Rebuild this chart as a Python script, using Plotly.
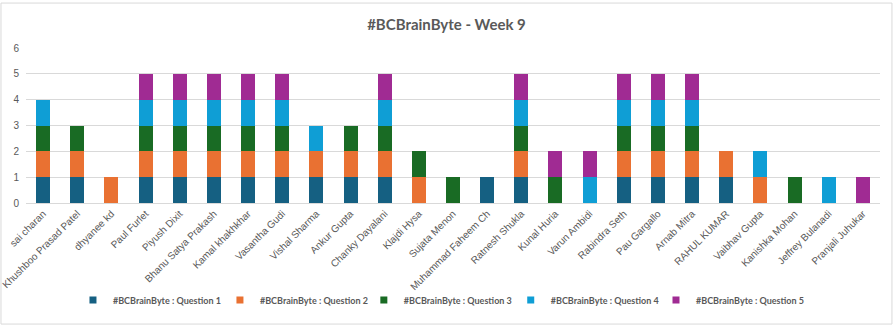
import plotly.graph_objects as go

names = ["sai charan", "Khushboo Prasad Patel", "dhyanee kd", "Paul Furlet", "Piyush Dixit",
         "Bhanu Satya Prakash", "Kamal khakhkhar", "Vasantha Gudi", "Vishal Sharma", "Ankur Gupta",
         "Chanky Dayalani", "Klajdi Hysa", "Sujata Menon", "Muhammad Faheem Ch", "Ratnesh Shukla",
         "Kunal Huria", "Varun Ambidi", "Rabindra Seth", "Pau Gargallo", "Arnab Mitra",
         "RAHUL KUMAR", "Vaibhav Gupta", "Kanishka Mohan", "Jeffrey Bulanadi", "Pranjali Juhukar"]

q1 = [1, 1, 0, 1, 1, 1, 1, 1, 1, 1, 1, 0, 0, 1, 1, 0, 0, 1, 1, 1, 1, 0, 0, 0, 0]
q2 = [1, 1, 1, 1, 1, 1, 1, 1, 1, 1, 1, 1, 0, 0, 1, 0, 0, 1, 1, 1, 1, 1, 0, 0, 0]
q3 = [1, 1, 0, 1, 1, 1, 1, 1, 0, 1, 1, 1, 1, 0, 1, 1, 0, 1, 1, 1, 0, 0, 1, 0, 0]
q4 = [1, 0, 0, 1, 1, 1, 1, 1, 1, 0, 1, 0, 0, 0, 1, 0, 1, 1, 1, 1, 0, 1, 0, 1, 0]
q5 = [0, 0, 0, 1, 1, 1, 1, 1, 0, 0, 1, 0, 0, 0, 1, 1, 1, 1, 1, 1, 0, 0, 0, 0, 1]

series_names = ["#BCBrainByte : Question 1", "#BCBrainByte : Question 2", "#BCBrainByte : Question 3",
                "#BCBrainByte : Question 4", "#BCBrainByte : Question 5"]
series_values = [q1, q2, q3, q4, q5]
colors = ["#156082", "#E97132", "#196B24", "#0F9ED5", "#A02B93"]

gray = "#595959"
legend_x = [0.0550, 0.2271, 0.3956, 0.5676, 0.7377]
legend_ids = ["legend", "legend2", "legend3", "legend4", "legend5"]

fig = go.Figure()
for nm, vals, col in zip(series_names, series_values, colors):
    fig.add_trace(go.Bar(x=names, y=vals, name=nm, showlegend=False, legendgroup=nm,
                         marker=dict(color=col, line=dict(width=0))))
# legend entries with small square swatches, one legend per entry
for nm, col, lid in zip(series_names, colors, legend_ids):
    fig.add_trace(go.Scatter(x=[None], y=[None], mode="markers", name=nm, legendgroup=nm,
                             legend=lid, marker=dict(symbol="square", size=7, color=col)))

legend_style = dict(orientation="h", xanchor="left", y=-0.626, yanchor="middle", itemwidth=30,
                    bgcolor="rgba(0,0,0,0)",
                    font=dict(family="Lato, Open Sans, sans-serif", size=9, color=gray, weight="bold"))
legends = {lid: dict(x=lx, **legend_style) for lid, lx in zip(legend_ids, legend_x)}

fig.update_layout(
    barmode="stack",
    bargap=0.59,
    width=893, height=327,
    margin=dict(l=26, r=13, t=48, b=124),
    paper_bgcolor="white", plot_bgcolor="white",
    font=dict(family="Liberation Sans, Arial, sans-serif", color=gray, size=10),
    title=dict(text="<b>#BCBrainByte - Week 9</b>", x=0.5, xanchor="center", y=0.925, yanchor="middle",
               font=dict(family="Lato, Open Sans, sans-serif", size=15, color=gray)),
    xaxis=dict(tickangle=-45, showgrid=False, showline=True, linecolor="#d9d9d9", linewidth=1,
               ticks="", automargin=False, tickfont=dict(size=10, color=gray)),
    yaxis=dict(range=[0, 6], dtick=1, showgrid=True, gridcolor="#d9d9d9", gridwidth=1,
               zeroline=False, showline=False, ticks="", automargin=False, ticklabelstandoff=6,
               tickfont=dict(size=10, color=gray)),
    shapes=[dict(type="rect", xref="paper", yref="paper", x0=-0.0293, x1=1.014, y0=-0.781, y1=1.290,
                 line=dict(color="#d9d9d9", width=1), fillcolor="rgba(0,0,0,0)", layer="below")],
    **legends,
)

fig.write_html("out.html")
